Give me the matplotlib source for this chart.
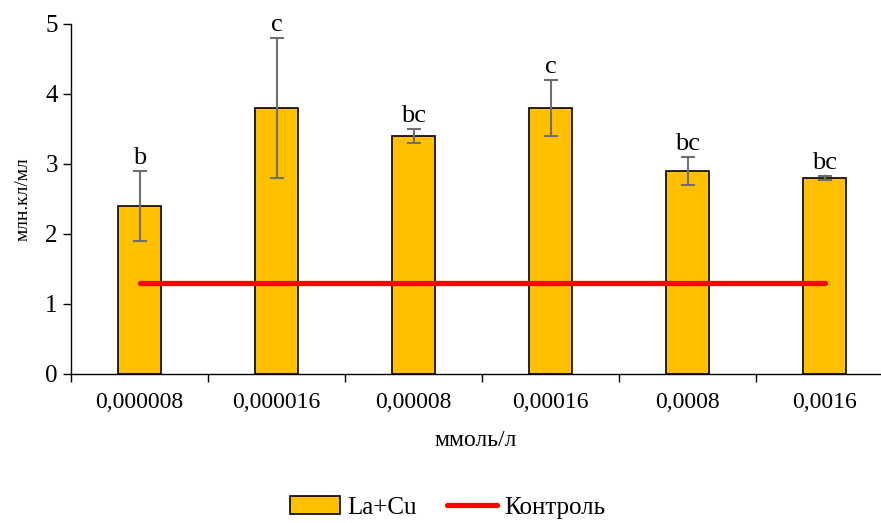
import matplotlib.pyplot as plt
import numpy as np

plt.rcParams['font.family'] = ['Liberation Serif', 'DejaVu Serif']

conc = ['0,000008', '0,000016', '0,00008', '0,00016', '0,0008', '0,0016']
la_cu = [2.4, 3.8, 3.4, 3.8, 2.9, 2.8]
err = [0.5, 1.0, 0.1, 0.4, 0.2, 0.03]
letters = ['b', 'c', 'bc', 'c', 'bc', 'bc']
control = [1.3] * 6

fig = plt.figure(figsize=(8.81, 5.23), dpi=100)
ax = fig.add_axes([71 / 881, 149 / 523, (880 - 71) / 881, 350 / 523])

x = np.arange(len(conc))
ax.bar(x, la_cu, width=0.32, color='#FFC000', edgecolor='black',
       linewidth=1.2, label='La+Cu', zorder=2)
ax.errorbar(x, la_cu, yerr=err, fmt='none', ecolor='#6f6f6f', elinewidth=1.5,
            capsize=5, capthick=1.5, zorder=3)
ax.plot(x, control, color='#FF0000', linewidth=3.8, solid_capstyle='round',
        label='Контроль', zorder=4)

for xi, v, e, t in zip(x, la_cu, err, letters):
    ax.text(xi, v + e + 0.03, t, ha='center', va='bottom', fontsize=19)

ax.set_xlim(-0.5, -0.5 + (880 - 71) / 137)
ax.set_ylim(0, 5)
ax.set_yticks(range(6))
ax.tick_params(axis='y', labelsize=18, length=6, width=1, direction='out')
ax.set_xticks(x)
ax.set_xticklabels(conc, fontsize=17)
ax.tick_params(axis='x', length=0, pad=13)
ax.set_xticks(np.arange(len(conc)) - 0.5, minor=True)
ax.tick_params(axis='x', which='minor', length=6, width=1, direction='out')

for s in ['top', 'right']:
    ax.spines[s].set_visible(False)
ax.spines['left'].set_linewidth(1)
ax.spines['bottom'].set_linewidth(1)

ax.set_xlabel('ммоль/л', fontsize=17, labelpad=12)
ax.set_ylabel('млн.кл/мл', fontsize=14, labelpad=10)

h, l = ax.get_legend_handles_labels()
order = [l.index('La+Cu'), l.index('Контроль')]
fig.legend([h[i] for i in order], [l[i] for i in order],
           loc='center', bbox_to_anchor=(0.508, 0.03), ncol=2, frameon=False,
           fontsize=18, handlelength=2.0, columnspacing=1.2, handletextpad=0.3)

fig.savefig('out.png', dpi=100)
